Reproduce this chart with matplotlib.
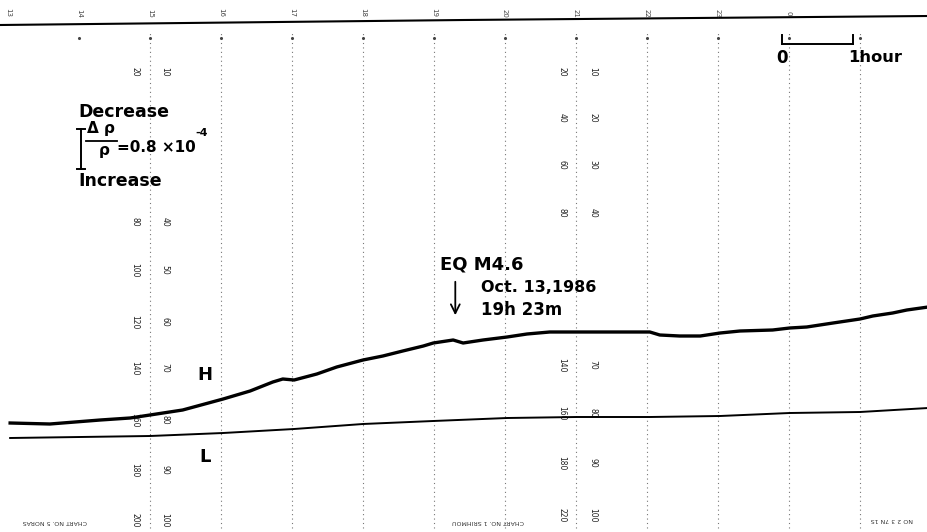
import matplotlib
matplotlib.use("Agg")
import matplotlib.pyplot as plt

# ---------------- data (time in hours, values: resistivity decrease in 1e-4) -------------
h_time = [13.03, 13.59, 14.30, 14.72, 15.00, 15.46, 16.03, 16.41, 16.73, 16.87, 17.03,
          17.35, 17.63, 18.00, 18.28, 18.56, 18.85, 18.99, 19.27, 19.41, 19.69, 20.03,
          20.31, 20.63, 21.01, 22.04, 22.18, 22.46, 22.75, 23.03, 23.31, 23.77, 24.01,
          24.25, 24.62, 25.00, 25.18, 25.46, 25.66, 25.96]
h_val = [0.34, 0.32, 0.40, 0.44, 0.50, 0.60, 0.82, 0.98, 1.16, 1.22, 1.20,
         1.32, 1.46, 1.60, 1.68, 1.78, 1.88, 1.94, 2.00, 1.94, 2.00, 2.06,
         2.12, 2.16, 2.16, 2.16, 2.10, 2.08, 2.08, 2.14, 2.18, 2.20, 2.24,
         2.26, 2.34, 2.42, 2.48, 2.54, 2.60, 2.66]

l_time = [13.03, 15.00, 16.03, 17.03, 18.00, 18.99, 20.03, 21.01, 22.04, 23.03, 24.01, 25.00, 25.96]
l_val = [0.04, 0.08, 0.14, 0.22, 0.32, 0.38, 0.44, 0.46, 0.46, 0.48, 0.54, 0.56, 0.64]

edge_time = [12.89, 19.42, 25.96]
edge_val = [8.30, 8.40, 8.48]

hour_ticks = [13, 14, 15, 16, 17, 18, 19, 20, 21, 22, 23, 24]
hour_labels = ["13", "14", "15", "16", "17", "18", "19", "20", "21", "22", "23", "0"]
grid_hours = [15, 16, 17, 18, 19, 20, 21, 22, 23, 24, 25]
dot_hours = [14, 15, 16, 17, 18, 19, 20, 21, 22, 23, 24, 25]

# chart-paper scale numbers (row value, label)
paper_a_vals = [7.36, 4.36, 3.40, 2.36, 1.44, 0.40, -0.60, -1.60]
paper_a_outer = ["20", "80", "100", "120", "140", "160", "180", "200"]
paper_a_inner_vals = [7.36, 4.36, 3.40, 2.36, 1.44, 0.40, -0.60, -1.60]
paper_a_inner = ["10", "40", "50", "60", "70", "80", "90", "100"]
paper_b_vals = [7.36, 6.44, 5.50, 4.54, 1.50, 0.54, -0.46, -1.50]
paper_b_outer = ["20", "40", "60", "80", "140", "160", "180", "220"]
paper_b_inner = ["10", "20", "30", "40", "70", "80", "90", "100"]

eq_time = 19.30          # arrow position
scale_start = 23.90      # 1-hour scale bar start
bracket_top = 6.22       # 0.8e-4 bracket
bracket_size = 0.8

# ---------------- helpers for layout (pixel -> data) -------------------------------
def T(x):
    return 15 + (x - 150) / 71.0

def V(row):
    return (440 - row) / 50.0

fig = plt.figure(figsize=(9.28, 5.32), dpi=100)
ax = fig.add_axes([0, 0, 1, 1])
ax.set_xlim(T(0), T(928))
ax.set_ylim(V(532), V(0))
ax.axis("off")

bold = dict(family="DejaVu Sans", weight="bold", color="black")

# grid lines of the chart paper
for h in grid_hours:
    ax.vlines(h, V(528), V(32), colors="#777777", linestyles=(0, (1, 3)), lw=0.8, zorder=1)
ax.scatter(dot_hours, [V(38)] * len(dot_hours), s=1.5, color="#444444", zorder=1)

# top edge of the chart with hour numbers
ax.plot(edge_time, edge_val, color="black", lw=1.5)
for h, lab in zip(hour_ticks, hour_labels):
    ax.text(h, V(13), lab, rotation=-90, ha="center", va="center", fontsize=5,
            color="#444444")

# paper scale numbers
for v, lab in zip(paper_a_vals, paper_a_outer):
    ax.text(T(135), v, lab, rotation=-90, ha="center", va="center", fontsize=5.5, color="#222222")
for v, lab in zip(paper_a_inner_vals, paper_a_inner):
    ax.text(T(165), v, lab, rotation=-90, ha="center", va="center", fontsize=5.5, color="#222222")
for v, lab in zip(paper_b_vals, paper_b_outer):
    ax.text(T(562), v, lab, rotation=-90, ha="center", va="center", fontsize=5.5, color="#222222")
for v, lab in zip(paper_b_vals, paper_b_inner):
    ax.text(T(593), v, lab, rotation=-90, ha="center", va="center", fontsize=5.5, color="#222222")

# records
ax.plot(h_time, h_val, color="black", lw=2.4, solid_joinstyle="round", zorder=3)
ax.plot(l_time, l_val, color="black", lw=1.4, zorder=3)

ax.text(T(197), V(375), "H", fontsize=13, ha="left", va="center", **bold)
ax.text(T(199), V(457), "L", fontsize=13, ha="left", va="center", **bold)

# sensitivity bracket
ax.text(T(78), V(112), "Decrease", fontsize=12.5, ha="left", va="center", **bold)
ax.text(T(78), V(181), "Increase", fontsize=12.5, ha="left", va="center", **bold)
bx = T(81)
ax.plot([bx, bx], [bracket_top, bracket_top - bracket_size], color="black", lw=1.4)
ax.plot([T(77), T(85)], [bracket_top] * 2, color="black", lw=1.4)
ax.plot([T(77), T(85)], [bracket_top - bracket_size] * 2, color="black", lw=1.4)
ax.text(T(101), V(129), "Δ ρ", fontsize=11, ha="center", va="center", **bold)
ax.plot([T(86), T(117)], [V(141)] * 2, color="black", lw=1.3)
ax.text(T(104), V(151), "ρ", fontsize=11, ha="center", va="center", **bold)
ax.text(T(117), V(147), "=0.8 ×10", fontsize=11, ha="left", va="center", **bold)
ax.text(T(195), V(133), "-4", fontsize=8, ha="left", va="center", **bold)

# earthquake annotation
ax.text(T(440), V(265), "EQ M4.6", fontsize=13, ha="left", va="center", **bold)
ax.text(T(481), V(288), "Oct. 13,1986", fontsize=11.5, ha="left", va="center", **bold)
ax.text(T(481), V(310), "19h 23m", fontsize=12, ha="left", va="center", **bold)
ax.annotate("", xy=(eq_time, V(318)), xytext=(eq_time, V(279)),
            arrowprops=dict(arrowstyle="->", lw=1.3, color="black", mutation_scale=16))

# 1-hour scale bar
sy = V(44)
ax.plot([scale_start, scale_start + 1], [sy, sy], color="black", lw=1.4)
ax.plot([scale_start, scale_start], [sy, V(35)], color="black", lw=1.4)
ax.plot([scale_start + 1, scale_start + 1], [sy, V(35)], color="black", lw=1.4)
ax.text(scale_start, V(58), "0", fontsize=12, ha="center", va="center", **bold)
ax.text(scale_start + 1 - 0.07, V(58), "1hour", fontsize=11.8, ha="left", va="center", **bold)

# small printed texts on the chart paper (upside down)
ax.text(T(55), V(521), "CHART NO. 5 NORAS", rotation=180, fontsize=4.5, ha="center", va="center", color="#333333")
ax.text(T(488), V(521), "CHART NO. 1 SRIHMOU", rotation=180, fontsize=4.5, ha="center", va="center", color="#333333")
ax.text(T(892), V(519), "NO 2 3 7N 1S", rotation=180, fontsize=4.5, ha="center", va="center", color="#333333")

fig.savefig("out.png", dpi=100, facecolor="white")
